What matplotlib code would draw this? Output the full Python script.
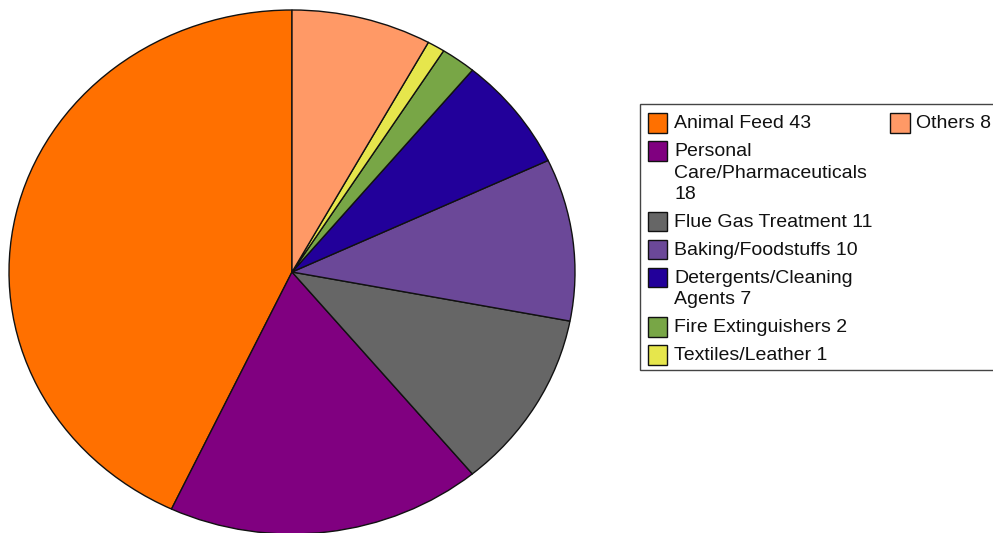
import matplotlib
matplotlib.use("Agg")
import matplotlib.pyplot as plt
from matplotlib.patches import Rectangle

categories = ["Animal Feed", "Personal\nCare/Pharmaceuticals\n", "Flue Gas Treatment",
              "Baking/Foodstuffs", "Detergents/Cleaning\nAgents", "Fire Extinguishers",
              "Textiles/Leather", "Others"]
values = [43, 18, 11, 10, 7, 2, 1, 8]
colors = ["#FF7000", "#800080", "#666666", "#6B4898", "#22009A", "#78A646",
          "#E6E64C", "#FF9966"]

plt.rcParams['font.family'] = ['Liberation Sans', 'DejaVu Sans']

W, H = 993, 533
fig = plt.figure(figsize=(W / 100, H / 100), dpi=100)

cx, cy, rx, ry = 292, 272, 283, 262
ax = fig.add_axes([(cx - rx) / W, (H - cy - ry) / H, 2 * rx / W, 2 * ry / H])
wedges, _ = ax.pie(values, colors=colors, startangle=90, counterclock=True,
                   radius=1, wedgeprops=dict(edgecolor="#111111", linewidth=1.0))
ax.set_xlim(-1, 1)
ax.set_ylim(-1, 1)
ax.set_aspect('auto')
ax.axis('off')

labels = []
for c, v in zip(categories, values):
    if c.endswith("\n"):
        labels.append(f"{c}{v}")
    else:
        labels.append(f"{c} {v}")


def fx(x):
    return x / W


def fy(y):
    return 1 - y / H


# legend frame
fig.add_artist(Rectangle((fx(639.5), fy(370)), fx(1100) - fx(639.5), fy(104) - fy(370),
                         transform=fig.transFigure, facecolor="white",
                         edgecolor="#444444", linewidth=1.0))

step, line_h, sq = 28.0, 21.3, 19.5
fs = 14


def entry(x_sq, y_center, color, text):
    fig.add_artist(Rectangle((fx(x_sq), fy(y_center + sq / 2)), sq / W, sq / H,
                             transform=fig.transFigure, facecolor=color,
                             edgecolor="#111111", linewidth=1.0))
    for k, ln in enumerate(text.split("\n")):
        fig.text(fx(x_sq + sq + 7), fy(y_center + 5.3 + k * line_h), ln,
                 fontsize=fs, va='baseline', ha='left', color="#111111")


y = 123.0
for i in range(7):
    entry(647.5, y, colors[i], labels[i])
    y += step + line_h * labels[i].count("\n")

entry(890, 123.0, colors[7], labels[7])

fig.savefig("out.png", dpi=100)
